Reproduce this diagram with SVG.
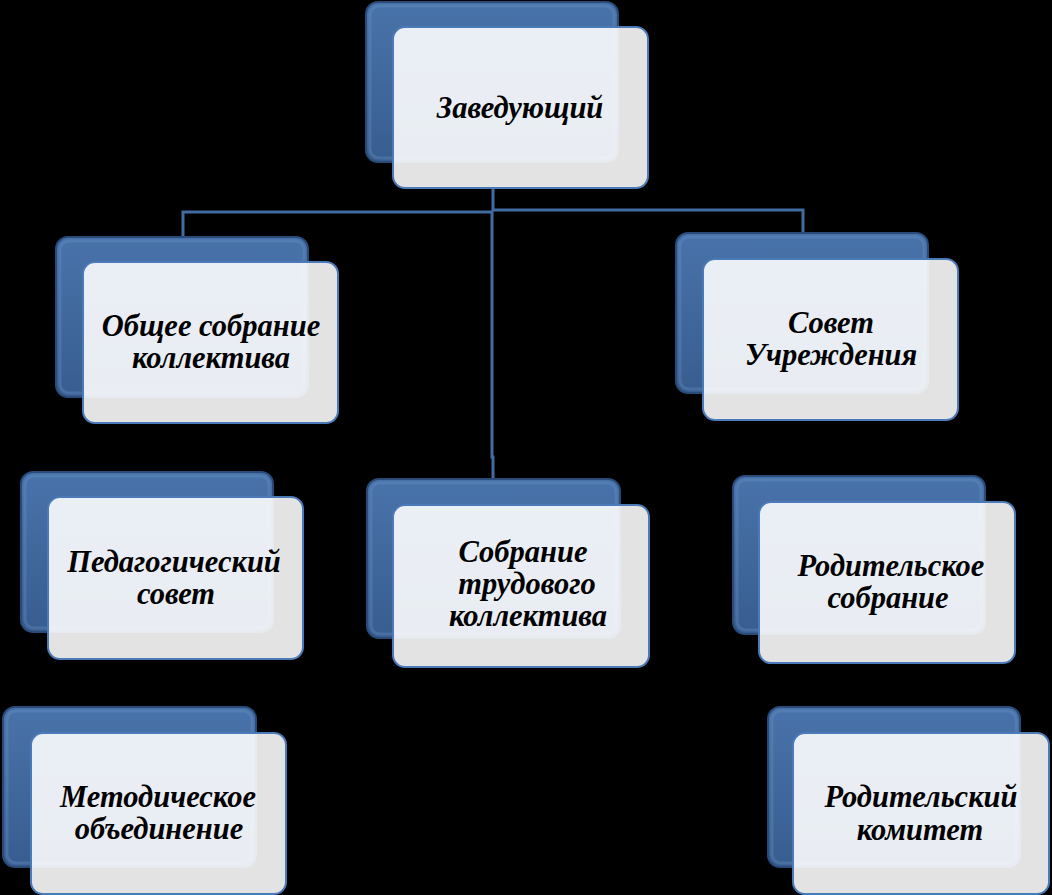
<svg xmlns="http://www.w3.org/2000/svg" width="1052" height="895" viewBox="0 0 1052 895">
<defs>
<linearGradient id="blueG" x1="0" y1="0" x2="0" y2="1">
<stop offset="0" stop-color="#4873aa"/>
<stop offset="1" stop-color="#385d90"/>
</linearGradient>
<style>
.back{fill:url(#blueG);stroke:#2a4a78;stroke-width:2}
.bevel{fill:none;stroke:#6a92c4;stroke-opacity:0.35;stroke-width:3}
.front{fill:#ffffff;fill-opacity:0.89;stroke:#4a7ab8;stroke-width:2}
.lbl{font-family:"Liberation Serif","Times New Roman",serif;font-weight:bold;font-style:italic;font-size:30.5px;fill:#000;text-anchor:middle}
.conn{fill:none;stroke:#416ca2;stroke-width:3}
</style>
</defs>
<rect x="0" y="0" width="1052" height="895" fill="#000"/>
<g id="connectors">
<path class="conn" d="M493,188 V211"/>
<path class="conn" d="M183,236 V212 H493"/>
<path class="conn" d="M493,210 H803 V234"/>
<path class="conn" d="M492,211 V457 H493 V480"/>
</g>
<g id="n-zaveduyushchiy">
<rect class="back" x="366" y="2" width="252" height="160" rx="12"/>
<rect class="bevel" x="370" y="6" width="244" height="152" rx="9"/>
<rect class="front" x="393" y="27" width="255" height="161" rx="12"/>
<text class="lbl" x="520" y="118">Заведующий</text>
</g>
<g id="n-obshchee">
<rect class="back" x="56" y="237" width="252" height="160" rx="12"/>
<rect class="bevel" x="60" y="241" width="244" height="152" rx="9"/>
<rect class="front" x="83" y="262" width="255" height="161" rx="12"/>
<text class="lbl" x="211" y="336">Общее собрание</text>
<text class="lbl" x="211" y="368">коллектива</text>
</g>
<g id="n-sovet">
<rect class="back" x="676" y="233" width="252" height="160" rx="12"/>
<rect class="bevel" x="680" y="237" width="244" height="152" rx="9"/>
<rect class="front" x="703" y="259" width="255" height="161" rx="12"/>
<text class="lbl" x="831" y="333">Совет</text>
<text class="lbl" x="831" y="365">Учреждения</text>
</g>
<g id="n-pedsovet">
<rect class="back" x="21" y="472" width="252" height="160" rx="12"/>
<rect class="bevel" x="25" y="476" width="244" height="152" rx="9"/>
<rect class="front" x="48" y="497" width="255" height="162" rx="12"/>
<text class="lbl" x="174" y="572">Педагогический</text>
<text class="lbl" x="176" y="604">совет</text>
</g>
<g id="n-sobranie-trud">
<rect class="back" x="367" y="479" width="253" height="159" rx="12"/>
<rect class="bevel" x="371" y="483" width="245" height="151" rx="9"/>
<rect class="front" x="393" y="505" width="256" height="162" rx="12"/>
<text class="lbl" x="523" y="562">Собрание</text>
<text class="lbl" x="527" y="594">трудового</text>
<text class="lbl" x="528" y="626">коллектива</text>
</g>
<g id="n-rod-sobranie">
<rect class="back" x="733" y="476" width="252" height="158" rx="12"/>
<rect class="bevel" x="737" y="480" width="244" height="150" rx="9"/>
<rect class="front" x="759" y="502" width="256" height="161" rx="12"/>
<text class="lbl" x="891" y="576">Родительское</text>
<text class="lbl" x="888" y="608">собрание</text>
</g>
<g id="n-metod">
<rect class="back" x="3" y="707" width="253" height="160" rx="12"/>
<rect class="bevel" x="7" y="711" width="245" height="152" rx="9"/>
<rect class="front" x="31" y="733" width="255" height="161" rx="12"/>
<text class="lbl" x="158" y="807">Методическое</text>
<text class="lbl" x="159" y="839">объединение</text>
</g>
<g id="n-rod-komitet">
<rect class="back" x="768" y="707" width="252" height="160" rx="12"/>
<rect class="bevel" x="772" y="711" width="244" height="152" rx="9"/>
<rect class="front" x="793" y="733" width="256" height="161" rx="12"/>
<text class="lbl" x="921" y="807">Родительский</text>
<text class="lbl" x="920" y="840">комитет</text>
</g>
</svg>
